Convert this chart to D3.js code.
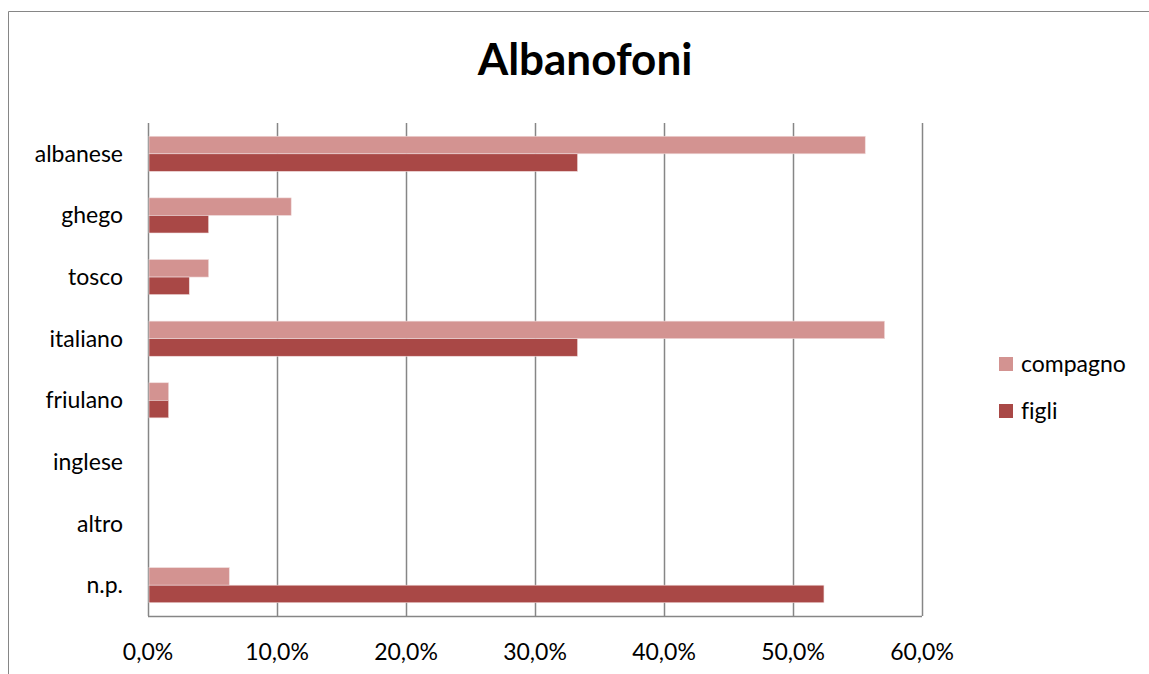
<!DOCTYPE html>
<html>
<head>
<meta charset="utf-8">
<script src="https://cdn.jsdelivr.net/npm/d3@7"></script>
<style>
  body { margin: 0; background: #fff; }
  text { font-family: Lato, "Open Sans", sans-serif; font-variant-ligatures: none; }
</style>
</head>
<body>
<div id="chart"></div>
<script>
// data
const categories = ["albanese", "ghego", "tosco", "italiano", "friulano", "inglese", "altro", "n.p."];
const compagno = [55.6, 11.1, 4.7, 57.1, 1.6, 0, 0, 6.3];
const figli = [33.3, 4.7, 3.2, 33.3, 1.6, 0, 0, 52.4];
const seriesNames = ["compagno", "figli"];
const colors = ["#d39391", "#a94846"];
const ticks = [0, 10, 20, 30, 40, 50, 60];

const W = 1149, H = 674;
const margin = {top: 123, right: 227, bottom: 58, left: 148};
const width = W - margin.left - margin.right,
      height = H - margin.top - margin.bottom;

const svg = d3.select("#chart").append("svg")
    .attr("width", W)
    .attr("height", H);

// outer frame (cropped at right / bottom)
svg.append("path")
    .attr("d", `M8.5,${H} L8.5,11.5 L${W},11.5`)
    .attr("fill", "none")
    .attr("stroke", "#868686")
    .attr("stroke-width", 1);

svg.append("text")
    .attr("x", 585)
    .attr("y", 75)
    .attr("text-anchor", "middle")
    .attr("font-size", "44px")
    .attr("font-weight", "bold")
    .text("Albanofoni");

const g = svg.append("g")
    .attr("transform", `translate(${margin.left}, ${margin.top})`);

const x = d3.scaleLinear().domain([0, 60]).range([0, width]);
const y = d3.scaleBand().domain(categories).range([0, height]).paddingInner(0.43).paddingOuter(0.215);
const sub = d3.scaleBand().domain(seriesNames).range([0, y.bandwidth()]);

// gridlines
g.selectAll("line.grid")
  .data(ticks)
  .join("line")
    .attr("class", "grid")
    .attr("x1", d => Math.round(x(d)) + 0.5)
    .attr("x2", d => Math.round(x(d)) + 0.5)
    .attr("y1", 0)
    .attr("y2", height)
    .attr("stroke", "#868686")
    .attr("stroke-width", 1.5);

// bars
const data = categories.map((c, i) => ({cat: c, values: [compagno[i], figli[i]]}));
const groups = g.selectAll("g.cat")
  .data(data)
  .join("g")
    .attr("class", "cat")
    .attr("transform", d => `translate(0, ${y(d.cat)})`);

groups.selectAll("rect")
  .data(d => d.values.map((v, j) => ({name: seriesNames[j], v, j})).filter(e => e.v > 0))
  .join("rect")
    .attr("x", x(0) + 1)
    .attr("y", d => sub(d.name))
    .attr("width", d => x(d.v) - x(0) - 1)
    .attr("height", sub.bandwidth())
    .attr("fill", d => colors[d.j])
    .attr("stroke", "#f0dcdc")
    .attr("stroke-width", 0.6);

// bottom axis line
g.append("line")
    .attr("x1", 0).attr("x2", width)
    .attr("y1", height + 0.5).attr("y2", height + 0.5)
    .attr("stroke", "#868686")
    .attr("stroke-width", 1.5);

// tick labels
g.selectAll("text.tick")
  .data(ticks)
  .join("text")
    .attr("class", "tick")
    .attr("x", d => x(d))
    .attr("y", height + 44)
    .attr("text-anchor", "middle")
    .attr("font-size", "23px")
    .text(d => d.toFixed(1).replace(".", ",") + "%");

// category labels
g.selectAll("text.cat")
  .data(categories)
  .join("text")
    .attr("class", "cat")
    .attr("x", -25)
    .attr("y", d => y(d) + y.bandwidth() / 2 + 8)
    .attr("text-anchor", "end")
    .attr("font-size", "23px")
    .text(d => d);

// legend
const legend = svg.append("g").attr("transform", "translate(999, 357)");
seriesNames.forEach((name, i) => {
  legend.append("rect")
    .attr("x", 0).attr("y", i * 47)
    .attr("width", 14).attr("height", 14)
    .attr("fill", colors[i]);
  legend.append("text")
    .attr("x", 22).attr("y", i * 47 + 15)
    .attr("font-size", "23px")
    .text(name);
});
</script>
</body>
</html>
